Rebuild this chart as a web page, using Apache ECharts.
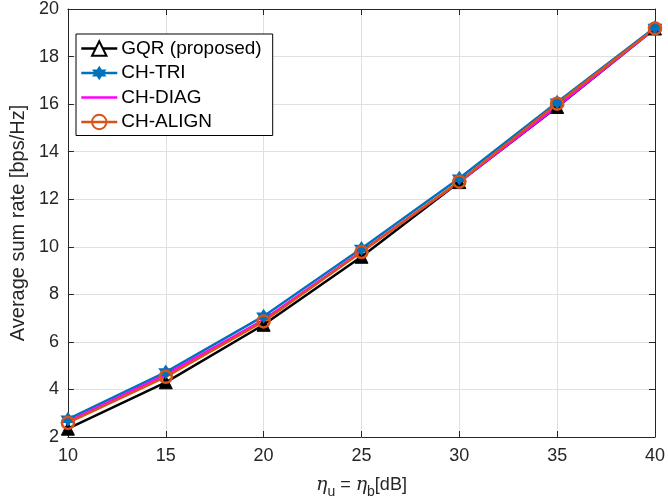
<!DOCTYPE html>
<html><head><meta charset="utf-8">
<script src="https://cdn.jsdelivr.net/npm/echarts@6/dist/echarts.min.js"></script>
<style>html,body{margin:0;padding:0;background:#fff}#c{width:668px;height:504px}</style>
</head><body><div id="c"></div>
<script>
const xValues = [10, 15, 20, 25, 30, 35, 40];
const gqr   = [2.35, 4.30, 6.72, 9.58, 12.72, 15.88, 19.18];
const chTri = [2.75, 4.73, 7.08, 9.93, 12.88, 16.08, 19.22];
const chDiag= [2.65, 4.62, 6.93, 9.80, 12.72, 15.90, 19.18];
const chAlign=[2.59, 4.53, 6.86, 9.78, 12.74, 16.02, 19.18];
const seriesNames = ['GQR (proposed)', 'CH-TRI', 'CH-DIAG', 'CH-ALIGN'];

function hexagram(){
  let p = [];
  for (let i = 0; i < 12; i++) {
    const r = i % 2 === 0 ? 10 : 5.77;
    const a = -Math.PI/2 + i*Math.PI/6;
    p.push((i===0?'M':'L') + (10 + r*Math.cos(a)).toFixed(2) + ' ' + (10 + r*Math.sin(a)).toFixed(2));
  }
  return 'path://' + p.join(' ') + ' Z';
}
const pair = a => a.map((v,i)=>[xValues[i], v]);
const axisColor = '#262626';
const font = 'Liberation Sans, Arial, sans-serif';
const star = hexagram();

const chart = echarts.init(document.getElementById('c'));
chart.setOption({
  animation: false,
  backgroundColor: '#fff',
  grid: {left: 64, right: 5, top: 9, bottom: 66},
  legend: {
    left: 76, top: 34, orient: 'vertical',
    backgroundColor: '#fff', borderColor: '#000', borderWidth: 1,
    padding: [5, 11, 4, 4], itemGap: 5.5, itemWidth: 36, itemHeight: 18,
    lineStyle: {width: 2.5},
    textStyle: {fontSize: 19, color: '#000', fontFamily: font, padding: [0,0,0,-1]},
    data: [
      {name: seriesNames[0], itemStyle: {color: '#fff', borderColor: '#000', borderWidth: 2}},
      {name: seriesNames[1]},
      {name: seriesNames[2], itemStyle: {opacity: 0}},
      {name: seriesNames[3]}
    ]
  },
  xAxis: [{
    type: 'value', min: 10, max: 40, interval: 5,
    axisLine: {onZero: false, lineStyle: {color: axisColor, width: 1}},
    axisTick: {inside: true, length: 6, lineStyle: {color: axisColor}},
    axisLabel: {fontSize: 18, color: axisColor, fontFamily: font, margin: 10},
    splitLine: {show: true, lineStyle: {color: '#e0e0e0', width: 1}},
    name: '{i|η}{s|u}{t| = }{i|η}{s|b}{t|[dB]}',
    nameLocation: 'middle', nameGap: 34,
    nameTextStyle: {
      rich: {
        i: {fontSize: 19, fontStyle: 'italic', fontFamily: 'DejaVu Serif, serif', color: axisColor},
        s: {fontSize: 14, color: axisColor, fontFamily: font, verticalAlign: 'bottom', padding: [14,0,0,0]},
        t: {fontSize: 18, color: axisColor, fontFamily: font}
      },
      fontSize: 18, color: axisColor, fontFamily: font
    }
  }, {
    type: 'value', position: 'top', min: 10, max: 40, interval: 5,
    axisLine: {show: true, lineStyle: {color: axisColor}},
    axisTick: {show: true, inside: true, length: 6, lineStyle: {color: axisColor}},
    axisLabel: {show: false}, splitLine: {show: false}
  }],
  yAxis: [{
    type: 'value', min: 2, max: 20, interval: 2,
    axisLine: {show: true, lineStyle: {color: axisColor, width: 1}},
    axisTick: {show: true, inside: true, length: 6, lineStyle: {color: axisColor}},
    axisLabel: {fontSize: 18, color: axisColor, fontFamily: font, margin: 9},
    splitLine: {show: true, lineStyle: {color: '#e0e0e0', width: 1}},
    name: 'Average sum rate [bps/Hz]', nameLocation: 'middle', nameGap: 36,
    nameTextStyle: {fontSize: 20, color: axisColor, fontFamily: font}
  }, {
    type: 'value', position: 'right', min: 2, max: 20, interval: 2,
    axisLine: {show: true, lineStyle: {color: axisColor}},
    axisTick: {show: true, inside: true, length: 6, lineStyle: {color: axisColor}},
    axisLabel: {show: false}, splitLine: {show: false}
  }],
  series: [
    {name: seriesNames[0], type: 'line', data: pair(gqr), symbol: 'triangle', symbolSize: 13,
     lineStyle: {color: '#000', width: 2.5}, itemStyle: {color: '#000', borderColor: '#000', borderWidth: 1}},
    {name: seriesNames[1], type: 'line', data: pair(chTri), symbol: star, symbolSize: 15,
     lineStyle: {color: '#0072BD', width: 2.5}, itemStyle: {color: '#0072BD'}},
    {name: seriesNames[2], type: 'line', data: pair(chDiag), symbol: 'circle', symbolSize: 1, showSymbol: false,
     lineStyle: {color: '#FF00FF', width: 2.5}, itemStyle: {color: '#FF00FF'}},
    {name: seriesNames[3], type: 'line', data: pair(chAlign), symbol: 'circle', symbolSize: 12,
     lineStyle: {color: '#D95319', width: 2.5},
     itemStyle: {color: 'rgba(0,0,0,0)', borderColor: '#D95319', borderWidth: 2.5}}
  ]
});
</script></body></html>
